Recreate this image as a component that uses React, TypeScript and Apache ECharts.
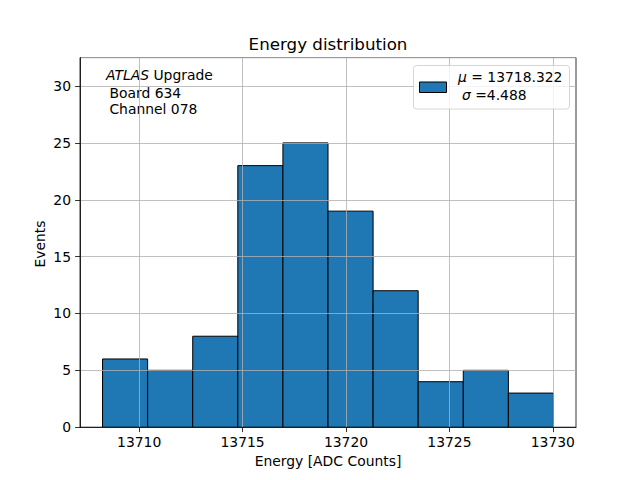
import React, { useEffect, useRef } from "react";
import * as echarts from "echarts";

const binEdges = [13708.23, 13710.41, 13712.59, 13714.77, 13716.95, 13719.13, 13721.31, 13723.49, 13725.67, 13727.85, 13730.03];
const counts = [6, 5, 8, 23, 25, 19, 12, 4, 5, 3];
const xTicks = [13710, 13715, 13720, 13725, 13730];
const titleText = "Energy distribution";
const xName = "Energy [ADC Counts]";
const yName = "Events";
const meanText = "13718.322";
const sigmaText = "4.488";
const infoLines = ["Board 634", "Channel 078"];

const FONT = "DejaVu Sans";

export default function App() {
  const ref = useRef<HTMLDivElement>(null);
  useEffect(() => {
    if (!ref.current) return;
    const chart = echarts.init(ref.current, null, { renderer: "svg" });
    const data = counts.map((c, i) => [binEdges[i], binEdges[i + 1], c]);
    const base = { fontFamily: FONT, fontSize: 13.9, color: "#000" };
    chart.setOption({
      animation: false,
      grid: { left: 80, right: 64, top: 57.6, bottom: 52.8, show: true, borderColor: "#000", borderWidth: 0.8, backgroundColor: "transparent" },
      xAxis: {
        type: "value",
        min: 13707.14,
        max: 13731.12,
        z: 5,
        name: xName,
        nameLocation: "middle",
        nameGap: 27,
        nameTextStyle: { ...base },
        axisLine: { show: true, lineStyle: { color: "#000", width: 0.8 } },
        axisTick: { show: true, length: 4.9, lineStyle: { color: "#000", width: 0.8 }, customValues: xTicks },
        axisLabel: { ...base, margin: 8, customValues: xTicks, formatter: (v: number) => String(Math.round(v)) },
        splitLine: { show: true, lineStyle: { color: "#b0b0b0", width: 0.8 } },
      },
      yAxis: {
        type: "value",
        min: 0,
        max: 32.5,
        interval: 5,
        z: 5,
        axisLine: { show: true, lineStyle: { color: "#000", width: 0.8 } },
        axisTick: { show: true, length: 4.9, lineStyle: { color: "#000", width: 0.8 } },
        axisLabel: { ...base, margin: 9, showMaxLabel: false },
        splitLine: { show: true, lineStyle: { color: "#b0b0b0", width: 0.8 } },
      },
      series: [
        {
          type: "custom",
          z: 2,
          data,
          encode: { x: [0, 1], y: 2 },
          renderItem: (params: any, api: any) => {
            const p0 = api.coord([api.value(0), 0]);
            const p1 = api.coord([api.value(1), api.value(2)]);
            return {
              type: "rect",
              shape: { x: p0[0], y: p1[1], width: p1[0] - p0[0], height: p0[1] - p1[1] },
              style: { fill: "#1f77b4", stroke: "#000", lineWidth: 1 },
            };
          },
        },
      ],
      graphic: [
        {
          type: "text",
          x: 328,
          y: 44,
          style: { text: titleText, fontFamily: FONT, fontSize: 16.7, fill: "#000", align: "center", verticalAlign: "middle", textAlign: "center", textVerticalAlign: "middle" },
        },
        {
          type: "text",
          x: 39.5,
          y: 244,
          rotation: Math.PI / 2,
          style: { text: yName, fontFamily: FONT, fontSize: 13.9, fill: "#000", align: "center", verticalAlign: "middle", textAlign: "center", textVerticalAlign: "middle" },
        },
        {
          type: "text",
          x: 106,
          y: 74.5,
          style: {
            text: "{i|ATLAS}{n| Upgrade}",
            fontFamily: FONT,
            fontSize: 13.9,
            fill: "#000",
            align: "left",
            verticalAlign: "middle",
            textAlign: "left",
            textVerticalAlign: "middle",
            rich: {
              i: { fontFamily: FONT, fontSize: 13.9, fontStyle: "italic", fill: "#000" },
              n: { fontFamily: FONT, fontSize: 13.9, fill: "#000" },
            },
          },
        },
        ...infoLines.map((t, i) => ({
          type: "text",
          x: 105,
          y: 92.5 + i * 16.5,
          style: { text: " " + t, fontFamily: FONT, fontSize: 13.9, fill: "#000", align: "left", verticalAlign: "middle", textAlign: "left", textVerticalAlign: "middle" },
        })),
        {
          type: "rect",
          z: 10,
          shape: { x: 413.5, y: 65.5, width: 156, height: 43.5, r: 3 },
          style: { fill: "rgba(255,255,255,0.8)", stroke: "#cccccc", lineWidth: 0.8 },
        },
        {
          type: "rect",
          z: 11,
          shape: { x: 419.5, y: 82, width: 27, height: 10.5 },
          style: { fill: "#1f77b4", stroke: "#000", lineWidth: 1 },
        },
        {
          type: "text",
          z: 11,
          x: 458,
          y: 77,
          style: {
            text: "{i|μ}{n| = " + meanText + "}",
            fontFamily: FONT,
            fontSize: 13.9,
            fill: "#000",
            align: "left",
            verticalAlign: "middle",
            textAlign: "left",
            textVerticalAlign: "middle",
            rich: {
              i: { fontFamily: FONT, fontSize: 13.9, fontStyle: "italic", fill: "#000" },
              n: { fontFamily: FONT, fontSize: 13.9, fill: "#000" },
            },
          },
        },
        {
          type: "text",
          z: 11,
          x: 462,
          y: 94.5,
          style: {
            text: "{i|σ}{n| =" + sigmaText + "}",
            fontFamily: FONT,
            fontSize: 13.9,
            fill: "#000",
            align: "left",
            verticalAlign: "middle",
            textAlign: "left",
            textVerticalAlign: "middle",
            rich: {
              i: { fontFamily: FONT, fontSize: 13.9, fontStyle: "italic", fill: "#000" },
              n: { fontFamily: FONT, fontSize: 13.9, fill: "#000" },
            },
          },
        },
      ],
    });
    return () => chart.dispose();
  }, []);
  return <div ref={ref} style={{ position: "absolute", left: 0, top: 0, width: 640, height: 480, background: "#fff" }} />;
}
